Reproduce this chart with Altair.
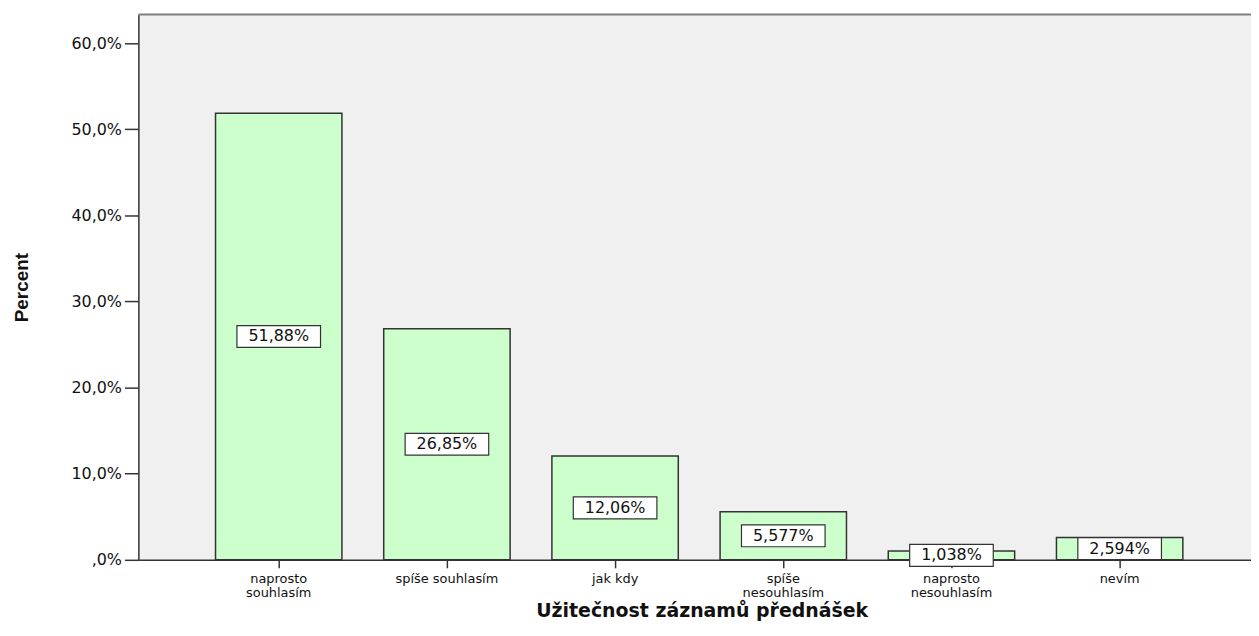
import altair as alt
import pandas as pd

categories = ["naprosto souhlasím", "spíše souhlasím", "jak kdy",
              "spíše nesouhlasím", "naprosto nesouhlasím", "nevím"]
percent = [51.88, 26.85, 12.06, 5.577, 1.038, 2.594]
value_labels = ["51,88%", "26,85%", "12,06%", "5,577%", "1,038%", "2,594%"]
y_ticks = [0, 10, 20, 30, 40, 50, 60]

df = pd.DataFrame({"cat": categories, "pct": percent, "lab": value_labels})

x_enc = alt.X(
    "cat:N", sort=categories,
    scale=alt.Scale(paddingInner=0.2485, paddingOuter=0.432, align=0.531),
    axis=alt.Axis(
        title="Užitečnost záznamů přednášek",
        labelAngle=0,
        labelExpr="indexof(['naprosto souhlasím','spíše nesouhlasím','naprosto nesouhlasím'], datum.label) >= 0 ? split(datum.label, ' ') : datum.label",
        labelFont="DejaVu Sans", labelFontSize=13, labelLineHeight=14,
        labelColor="#111111", labelPadding=5, labelBaseline="top",
        tickSize=8, tickColor="#333333", tickWidth=1.5,
        domainColor="#333333", domainWidth=1.5,
        titleFont="DejaVu Sans", titleFontSize=19, titleFontWeight="bold",
        titleColor="#111111", titleX=566, titleY=57, titleAlign="center",
        titleBaseline="alphabetic", grid=False,
    ),
)

y_scale = alt.Scale(domain=[0, 63.35], nice=False, zero=True)

bars = alt.Chart(df).mark_bar(
    fill="#ccffcc", stroke="#333333", strokeWidth=1.5
).encode(
    x=x_enc,
    y=alt.Y("pct:Q", scale=y_scale, axis=alt.Axis(
        title="Percent", values=y_ticks,
        labelExpr="datum.value == 0 ? ',0%' : replace(format(datum.value, '.1f'), '.', ',') + '%'",
        labelFont="DejaVu Sans", labelFontSize=16, labelColor="#111111",
        labelPadding=3, tickSize=14, tickColor="#333333", tickWidth=1.5,
        domainColor="#333333", domainWidth=1.5, grid=False,
        titleFont="Liberation Sans", titleFontSize=19,
        titleFontWeight="bold", titleColor="#111111",
        titleX=-117, titleY=274, titleAngle=270,
        titleAlign="center", titleBaseline="middle",
    )),
)

mid = alt.Chart(df).transform_calculate(mid="datum.pct / 2")

boxes = mid.mark_point(
    shape="M-1,-0.262H1V0.262H-1Z", size=84 * 84, filled=True,
    fill="white", stroke="#333333", strokeWidth=1.2, opacity=1
).encode(
    x=alt.X("cat:N", sort=categories),
    y=alt.Y("mid:Q", scale=y_scale),
)

texts = mid.mark_text(
    font="DejaVu Sans", fontSize=16, color="#111111", baseline="middle"
).encode(
    x=alt.X("cat:N", sort=categories),
    y=alt.Y("mid:Q", scale=y_scale),
    text="lab:N",
)

top_border = alt.Chart(alt.Data(values=[{}])).mark_rule(
    color="#808080", strokeWidth=2
).encode(y=alt.value(0))

chart = alt.layer(bars, boxes, texts, top_border).properties(
    width=1118, height=548,
    padding={"left": 131, "top": 5, "right": 0, "bottom": 61},
    autosize="none",
    background="white",
).configure_view(
    fill="#f0f0f0", stroke="transparent"
)

chart.save("out.html", embed_options={"renderer": "svg", "actions": False})
